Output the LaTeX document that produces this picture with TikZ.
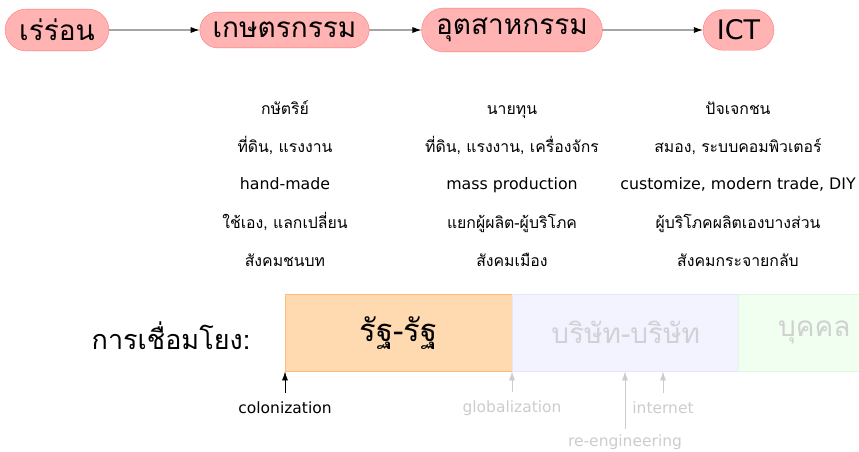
\documentclass[tikz,border=0pt]{standalone}
\usepackage{fontspec}
\setmainfont{DejaVu Sans}
\newfontfamily\thai[Script=Thai]{Loma}
\usetikzlibrary{arrows.meta,shapes,positioning}

\definecolor{eraf}{HTML}{FFB3B3}
\definecolor{erad}{HTML}{FF7777}
\definecolor{statef}{HTML}{FFDAB0}
\definecolor{stated}{HTML}{FFBB77}
\definecolor{firmf}{HTML}{F3F3FF}
\definecolor{firmd}{HTML}{E6E6FA}
\definecolor{personf}{HTML}{F0FFF0}
\definecolor{persond}{HTML}{E0F8E0}
\definecolor{faded}{HTML}{CCCCCC}

\begin{document}
\begin{tikzpicture}
[x=1pt,y=-1pt,
era/.style={shape=rounded rectangle,draw=erad,fill=eraf,inner xsep=11pt,inner ysep=10pt,font=\fontsize{28}{32}\selectfont},
item/.style={anchor=base,font=\fontsize{15.8}{18}\selectfont},
link/.style={anchor=north west,minimum width=227pt,minimum height=77pt,inner sep=0pt,font=\fontsize{28}{32}\selectfont},
event/.style={font=\fontsize{15.5}{18}\selectfont},
myedge/.style={>={Latex[length=9pt,width=6pt]}, ->, line width=0.8pt},
fadededge/.style={myedge, color=faded}]

\useasboundingbox (0,0) rectangle (859,451);

% eras
\node (e1) [era] at (57,30) {\thai เร่ร่อน};
\node (e2) [era] at (284.5,30) {\thai เกษตรกรรม};
\node (e3) [era] at (512,30) {\thai อุตสาหกรรม};
\node (e4) [era,font=\fontsize{27}{32}\selectfont] at (738.5,30) {ICT};
\draw[myedge] (e1) -- (e2);
\draw[myedge] (e2) -- (e3);
\draw[myedge] (e3) -- (e4);

% agriculture
\node (a1) [item] at (285,114) {\thai กษัตริย์};
\node (a2) [item] at (285,152) {\thai ที่ดิน, แรงงาน};
\node (a3) [item] at (285,189) {hand-made};
\node (a4) [item] at (285,228) {\thai ใช้เอง, แลกเปลี่ยน};
\node (a5) [item] at (285,266) {\thai สังคมชนบท};

% industry
\node (i1) [item] at (512,114) {\thai นายทุน};
\node (i2) [item] at (512,152) {\thai ที่ดิน, แรงงาน, เครื่องจักร};
\node (i3) [item] at (512,189) {mass production};
\node (i4) [item] at (512,228) {\thai แยกผู้ผลิต-ผู้บริโภค};
\node (i5) [item] at (512,266) {\thai สังคมเมือง};

% ict
\node (c1) [item] at (738,114) {\thai ปัจเจกชน};
\node (c2) [item] at (738,152) {\thai สมอง, ระบบคอมพิวเตอร์};
\node (c3) [item] at (738,189) {customize, modern trade, DIY};
\node (c4) [item] at (738,228) {\thai ผู้บริโภคผลิตเองบางส่วน};
\node (c5) [item] at (738,266) {\thai สังคมกระจายกลับ};

% links
\node (lk) [font=\fontsize{27}{30}\selectfont] at (171,336) {\thai การเชื่อมโยง:};
\node (s1) [link,draw=stated,fill=statef,font=\fontsize{31}{34}\selectfont] at (285,294) {\thai รัฐ-รัฐ};
\node (s2) [link,draw=firmd,fill=firmf,text=faded!80!firmd] at (512,294) {\thai บริษัท-บริษัท};
\node (s3) [link,minimum width=152pt,draw=persond,fill=personf,text=faded!90!personf] at (738,294) {\thai บุคคล};

% events
\node (v1) [event] at (285,408) {colonization};
\node (v2) [event,text=faded] at (512,408) {globalization};
\node (v3) [event,text=faded] at (663,408) {internet};
\node (v4) [event,text=faded] at (625,442) {re-engineering};
\draw[myedge] (v1.north) ++(0,-5) -- (s1.south west);
\draw[fadededge] (v2.north) ++(0,-5) -- (s2.south west);
\draw[fadededge] (v3.north) ++(0,-5) -- (v3.north |- s2.south);
\draw[fadededge] (v4.north) ++(0,-2) -- (v4.north |- s2.south);

\end{tikzpicture}
\end{document}
